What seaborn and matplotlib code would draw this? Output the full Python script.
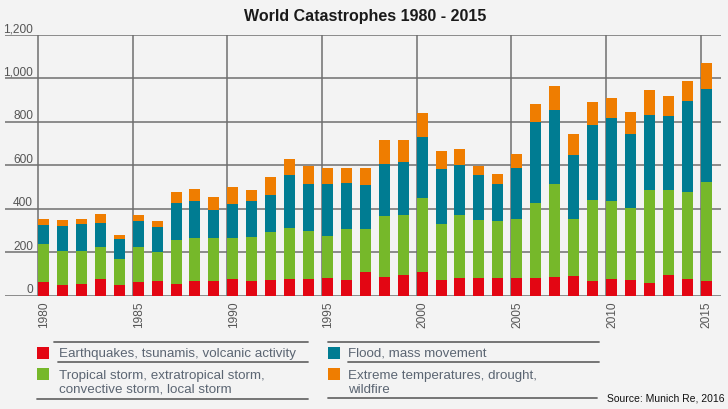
import numpy as np
import pandas as pd
import matplotlib
matplotlib.use("Agg")
import matplotlib.pyplot as plt
import matplotlib.transforms as mtransforms
from matplotlib.lines import Line2D
from matplotlib.patches import Rectangle
from matplotlib import font_manager
import seaborn as sns

# ---------------- data ----------------
years = list(range(1980, 2016))
earthquakes = [63, 49, 55, 77, 49, 63, 67, 55, 67, 67,
               77, 67, 72, 77, 77, 83, 72, 107, 87, 95,
               107, 72, 80, 80, 80, 80, 80, 84, 89, 67,
               77, 72, 60, 95, 77, 67]
storms = [175, 158, 152, 147, 120, 161, 135, 199, 197, 197,
          190, 204, 219, 234, 222, 191, 235, 200, 279, 274,
          342, 258, 289, 266, 263, 271, 348, 430, 265, 374,
          357, 330, 424, 389, 400, 454]
floods = [87, 115, 123, 112, 90, 119, 112, 172, 170, 130,
          155, 163, 172, 245, 215, 240, 211, 203, 238, 247,
          282, 251, 232, 207, 171, 235, 371, 338, 294, 344,
          383, 342, 347, 344, 420, 431]
extreme = [29, 24, 24, 38, 22, 28, 29, 52, 57, 60,
           79, 52, 83, 73, 82, 73, 69, 77, 112, 100,
           109, 84, 75, 43, 47, 67, 84, 112, 96, 107,
           91, 101, 113, 92, 92, 120]

series_names = ["Earthquakes, tsunamis, volcanic activity",
                "Tropical storm, extratropical storm,\nconvective storm, local storm",
                "Flood, mass movement",
                "Extreme temperatures, drought,\nwildfire"]
series_colors = ["#e30613", "#76b82a", "#007c92", "#ef7d00"]
y_ticks = [0, 200, 400, 600, 800, 1000, 1200]
y_tick_labels = ["0", "200", "400", "600", "800", "1,000", "1,200"]
x_label_years = [1980, 1985, 1990, 1995, 2000, 2005, 2010, 2015]
title = "World Catastrophes 1980 - 2015"
source = "Source: Munich Re, 2016"

# ---------------- style ----------------
sns.set_style("white")
available = {f.name for f in font_manager.fontManager.ttflist}
if "Liberation Sans Narrow" in available:
    COND = ["Liberation Sans Narrow", "DejaVu Sans"]
    leg_size, tick_size = 11.5, 9.5
else:
    COND = ["Liberation Sans", "DejaVu Sans"]
    leg_size, tick_size = 9.6, 8.6
ARIAL = ["Liberation Sans", "DejaVu Sans"]
plt.rcParams["font.family"] = ARIAL

BG = "#f3f3f3"
GRID = "#6e6e6e"
TXT = "#5b6572"
W, H = 728, 410

fig = plt.figure(figsize=(W / 100, H / 100), dpi=100, facecolor=BG)
ax = fig.add_axes([5 / W, 1 - 296.7 / H, 716 / W, 261 / H])
ax.set_facecolor(BG)

df = pd.DataFrame({"year": years, "eq": earthquakes, "st": storms,
                   "fl": floods, "ex": extreme})
bottom = np.zeros(len(years))
for col, color in zip(["eq", "st", "fl", "ex"], series_colors):
    sns.barplot(data=df, x="year", y=col, native_scale=True, width=0.58,
                color=color, saturation=1, errorbar=None, bottom=bottom.copy(),
                linewidth=0, edgecolor="none", ax=ax, zorder=3)
    bottom = bottom + df[col].to_numpy()

BAR_OFF = 0.29
ax.set_xlim(1977.966, 2015.79)
ax.set_ylim(0, 1200)
ax.set_xticks([y - BAR_OFF for y in x_label_years])
ax.set_xticklabels([])
ax.set_yticks(y_ticks)
ax.set_yticklabels([])
ax.set_xlabel("")
ax.set_ylabel("")
ax.grid(True, color=GRID, linewidth=1.1, zorder=0)
ax.set_axisbelow(True)
for s in ax.spines.values():
    s.set_visible(False)
ax.tick_params(axis="y", length=0)
ax.tick_params(axis="x", length=7.5, width=1.1, color=GRID, direction="out")

# y labels above grid lines
ytr = ax.get_yaxis_transform()
for v, lab in zip(y_ticks, y_tick_labels):
    ax.text(0.039, v + 17, lab, transform=ytr, ha="right", va="baseline",
            fontsize=tick_size, color="#555555", family=COND)

# x labels rotated
xtr = mtransforms.blended_transform_factory(ax.transData, ax.transAxes)
for y in x_label_years:
    ax.text(y - BAR_OFF + 0.33, -0.02, str(y), transform=xtr, rotation=90,
            ha="center", va="top", fontsize=tick_size, color="#555555",
            family=COND)

# title
fig.text(365 / W, 1 - 17 / H, title, ha="center", va="center",
         fontsize=11.5, fontweight="bold", color="#1a1a1a", family=ARIAL)


# legend
def fx(x):
    return x / W


def fy(y):
    return 1 - y / H


LINE = "#6a6a6a"
for (x0, x1, y) in [(54, 308, 343), (58, 308, 363), (37, 308, 400),
                    (328, 599, 343), (348, 599, 363), (328, 597, 399)]:
    fig.add_artist(Line2D([fx(x0), fx(x1)], [fy(y), fy(y)], color=LINE,
                          linewidth=1.3))

squares = [(37, 348), (37, 369), (328, 348), (328, 369)]
for (sx, sy), c in zip(squares, series_colors):
    fig.add_artist(Rectangle((fx(sx), fy(sy + 12)), 12 / W, 12 / H,
                             facecolor=c, edgecolor="none",
                             transform=fig.transFigure))

text_pos = [(59, 354), (59, 383), (348, 354), (348, 383)]
for (tx, ty), name in zip(text_pos, series_names):
    fig.text(fx(tx), fy(ty), name, ha="left", va="center",
             fontsize=leg_size, color=TXT, family=COND, linespacing=1.22)

fig.text(fx(607), fy(399), source, ha="left", va="center", fontsize=7.5,
         color="#111111", family=ARIAL)

fig.savefig("out.png", dpi=100, facecolor=BG)
